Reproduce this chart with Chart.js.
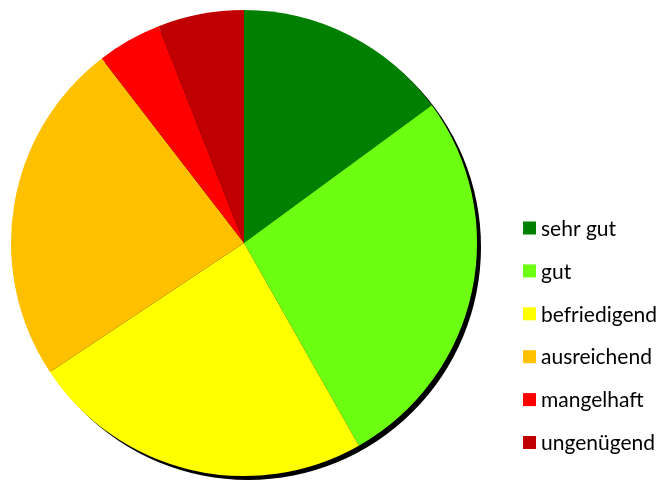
<!DOCTYPE html>
<html>
<head>
<meta charset="utf-8">
<script src="https://cdn.jsdelivr.net/npm/chart.js@4"></script>
<style>
  html, body { margin: 0; padding: 0; background: #fff; }
  #wrap { width: 659px; height: 483px; position: relative; }
</style>
</head>
<body>
<div id="wrap"><canvas id="chart-grades"></canvas></div>
<script>
// Data -------------------------------------
const labels = ['sehr gut', 'gut', 'befriedigend', 'ausreichend', 'mangelhaft', 'ungenügend']
const counts = [10, 18, 16, 16, 3, 4]
const colors = ['#008000', '#6CFF12', '#FFFF00', '#FFC000', '#FF0000', '#C00000']

// Plugins -------------------------------------
// --> black drop shadow behind the pie
const pieShadow = {
    id: 'pieShadow',
    beforeDatasetsDraw(chart) {
        const arc = chart.getDatasetMeta(0).data[0]
        if (!arc) return
        const ctx = chart.ctx
        ctx.save()
        ctx.fillStyle = '#000'
        ctx.beginPath()
        ctx.arc(arc.x + 4, arc.y + 4, arc.outerRadius, 0, Math.PI * 2)
        ctx.fill()
        ctx.restore()
    }
}

// --> legend on the right, items spaced widely
const sideLegend = {
    id: 'sideLegend',
    afterDraw(chart) {
        const ctx = chart.ctx
        const x0 = 523, y0 = 228, step = 42.9, box = 13
        ctx.save()
        ctx.font = '21px Lato'
        ctx.textBaseline = 'middle'
        chart.data.labels.forEach(function (lab, i) {
            const y = y0 + i * step
            ctx.fillStyle = chart.data.datasets[0].backgroundColor[i]
            ctx.fillRect(x0, y - box / 2, box, box)
            ctx.fillStyle = '#000'
            ctx.fillText(lab, x0 + 18, y + 1)
        })
        ctx.restore()
    }
}

// Chart -------------------------------------
const config = {
    type: 'pie',
    data: {
        labels: labels,
        datasets: [{
            data: counts,
            backgroundColor: colors,
            borderWidth: 0,
        }]
    },
    options: {
        responsive: true,
        maintainAspectRatio: false,
        animation: false,
        layout: {
            padding: { left: 11, right: 182, top: 10, bottom: 7 }
        },
        plugins: {
            legend: { display: false },
            tooltip: { enabled: false },
        },
    },
    plugins: [pieShadow, sideLegend]
}

const chart = new Chart(document.getElementById('chart-grades').getContext('2d'), config)
</script>
</body>
</html>
